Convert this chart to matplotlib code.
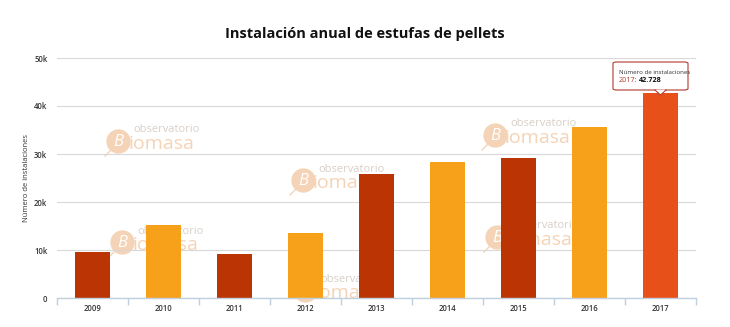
import matplotlib.pyplot as plt
import numpy as np
from matplotlib.patches import FancyBboxPatch, Polygon

# data
years = ['2009', '2010', '2011', '2012', '2013', '2014', '2015', '2016', '2017']
installs = [9600, 15300, 9200, 13600, 25800, 28400, 29100, 35700, 42728]
bar_colors = ['#BA3503', '#F7A11A', '#BA3503', '#F7A11A', '#BA3503',
              '#F7A11A', '#BA3503', '#F7A11A', '#E8501A']
yticks = [0, 10000, 20000, 30000, 40000, 50000]
ytick_labels = ['0', '10k', '20k', '30k', '40k', '50k']

plt.rcParams['font.family'] = ['Open Sans', 'DejaVu Sans']

fig = plt.figure(figsize=(7.3, 3.27), dpi=100)
ax = fig.add_axes([57 / 730, 29 / 327, 639 / 730, 240 / 327])

x = np.arange(len(years))
ax.bar(x, installs, width=0.48, color=bar_colors, zorder=3)

ax.set_xlim(-0.5, len(years) - 0.5)
ax.set_ylim(0, 50000)
ax.set_yticks(yticks)
ax.set_yticklabels(ytick_labels, fontsize=5.5, color='#333333', fontweight='semibold')
ax.set_xticks(x)
ax.set_xticklabels(years, fontsize=5.5, color='#333333', fontweight='semibold')
ax.tick_params(axis='y', length=0, pad=7)
ax.tick_params(axis='x', length=0, pad=4)
# tick marks between categories
ax.set_xticks(np.arange(-0.5, len(years)), minor=True)
ax.tick_params(axis='x', which='minor', length=5, color='#C0D0E0', width=1)

ax.grid(axis='y', color='#D8D8D8', linewidth=0.8, zorder=0)
for s in ['top', 'right', 'left']:
    ax.spines[s].set_visible(False)
ax.spines['bottom'].set_color('#C0D0E0')
ax.spines['bottom'].set_linewidth(1)
ax.spines['bottom'].set_zorder(4)

ax.set_ylabel('Número de instalaciones', fontsize=5.5, color='#333333', labelpad=3)

fig.text(0.5, 0.895, 'Instalación anual de estufas de pellets', ha='center',
         va='center', fontsize=10.5, fontweight='bold', color='#111111')


def px(xp, yp):
    # picture pixels -> axes fraction
    return (xp - 57) / 639, (298 - yp) / 240


# faint "observatorio biomasa" watermarks, logo circle centres in pixels
wm_centres = [(118, 141), (303, 180), (122, 242), (495, 135), (497, 237), (305, 290)]
wm_orange = '#F5D3B6'
for cx, cy in wm_centres:
    ax.plot(*px(cx, cy), marker='o', markersize=17.5, color=wm_orange, mec='none',
            transform=ax.transAxes, zorder=1, clip_on=False)
    ax.plot(*zip(px(cx - 7, cy + 9), px(cx - 13, cy + 15)), color=wm_orange, lw=1,
            transform=ax.transAxes, zorder=1)
    ax.text(*px(cx, cy + 1), 'B', fontsize=12, color='white', style='italic',
            ha='center', va='center', transform=ax.transAxes, zorder=1)
    ax.text(*px(cx + 10, cy + 3), 'iomasa', fontsize=14, color=wm_orange,
            ha='left', va='center', transform=ax.transAxes, zorder=1)
    ax.text(*px(cx + 15, cy - 11), 'observatorio', fontsize=8, color='#D8D0C8',
            ha='left', va='center', transform=ax.transAxes, zorder=1)

# tooltip for 2017
box = FancyBboxPatch(px(613, 90), 75 / 639, 28 / 240,
                     boxstyle='round,pad=0,rounding_size=0.006',
                     transform=ax.transAxes, fc='white', ec='#B03A2E',
                     lw=0.8, zorder=6, clip_on=False)
ax.add_patch(box)
tip = [px(655, 89.7), px(660.5, 95), px(666, 89.7)]
ax.add_patch(Polygon(tip, closed=True, transform=ax.transAxes, fc='white',
                     ec='none', zorder=7, clip_on=False))
ax.plot(*zip(px(655, 90), px(660.5, 95), px(666, 90)), transform=ax.transAxes,
        color='#B03A2E', lw=0.8, zorder=7, clip_on=False)
ax.text(*px(619, 72), 'Número de instalaciones', fontsize=4.4, color='#333333',
        ha='left', va='center', zorder=8, transform=ax.transAxes)
ax.text(*px(619, 81), '2017:', fontsize=5.2, color='#B03A2E', ha='left',
        va='center', zorder=8, transform=ax.transAxes)
ax.text(*px(639, 81), '42.728', fontsize=5.2, color='#111111', fontweight='bold',
        ha='left', va='center', zorder=8, transform=ax.transAxes)

fig.savefig('out.png', dpi=100)
